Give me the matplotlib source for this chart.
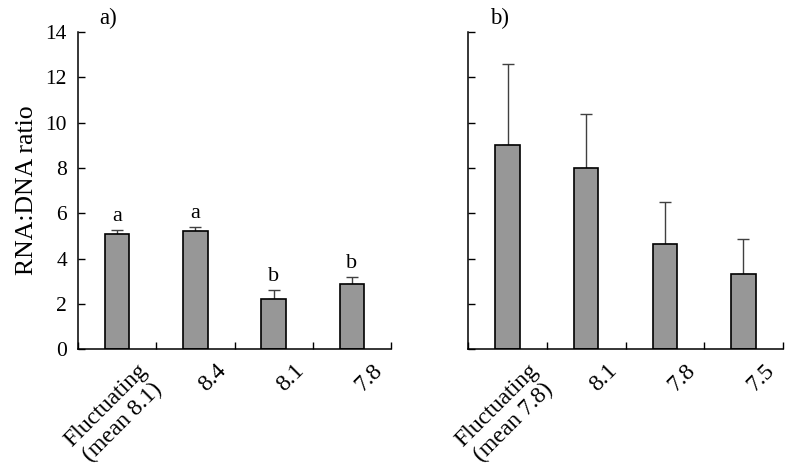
import matplotlib
matplotlib.use("Agg")
import matplotlib.pyplot as plt
from matplotlib.transforms import ScaledTranslation
import numpy as np

plt.rcParams['font.family'] = ['Liberation Serif', 'DejaVu Serif']
plt.rcParams['font.size'] = 15.5

# Panel a
cats_a = ["Fluctuating\n(mean 8.1)", "8.4", "8.1", "7.8"]
vals_a = [5.08, 5.21, 2.24, 2.86]
errs_a = [0.17, 0.18, 0.38, 0.33]
letters_a = ["a", "a", "b", "b"]

# Panel b
cats_b = ["Fluctuating\n(mean 7.8)", "8.1", "7.8", "7.5"]
vals_b = [9.0, 8.02, 4.65, 3.33]
errs_b = [3.6, 2.36, 1.87, 1.53]

yticks = [0, 2, 4, 6, 8, 10, 12, 14]

fig = plt.figure(figsize=(7.87, 4.69), dpi=100)
W, H = 787, 469
ax1 = fig.add_axes([78 / W, (H - 349.3) / H, 313 / W, 317.3 / H])
ax2 = fig.add_axes([468.3 / W, (H - 349.3) / H, 314.4 / W, 317.3 / H])

bar_color = "#979797"
err_color = "#404040"
FS = 15.5
FSX = 17


def draw(ax, cats, vals, errs, letters, label, show_ylabels):
    n = len(cats)
    x = np.arange(n) + 0.5
    ax.bar(x, vals, width=0.31, color=bar_color, edgecolor="black",
           linewidth=1.2, zorder=2)
    ax.errorbar(x, vals, yerr=[np.zeros(n), errs], fmt="none",
                ecolor=err_color, elinewidth=1.0, capsize=4, capthick=1.0,
                zorder=1)
    if letters is not None:
        for xi, v, e, t in zip(x, vals, errs, letters):
            ax.annotate(t, (xi, v + e), xytext=(0, 3),
                        textcoords="offset points", ha="center",
                        va="bottom", fontsize=FS + 0.5)
    ax.set_xlim(0, n)
    ax.set_ylim(0, 14)
    ax.set_yticks(yticks)
    if show_ylabels:
        ax.set_yticklabels([str(t) for t in yticks])
    else:
        ax.set_yticklabels([])
    ax.tick_params(axis="y", direction="in", length=5, width=1.0,
                   labelsize=FS, pad=8)
    ax.set_xticks(x)
    ax.set_xticklabels(cats, rotation=45, ha="right", va="top",
                       rotation_mode="anchor", multialignment="center",
                       fontsize=FSX, linespacing=1.15)
    ax.tick_params(axis="x", which="major", length=0, pad=8)
    ax.set_xticks(np.arange(n + 1), minor=True)
    ax.tick_params(axis="x", which="minor", direction="in", length=5,
                   width=1.0)
    for lab in ax.get_xticklabels():
        lab.set_transform(lab.get_transform() +
                          ScaledTranslation(0.20, 0, fig.dpi_scale_trans))
    for s in ["top", "right"]:
        ax.spines[s].set_visible(False)
    for s in ["left", "bottom"]:
        ax.spines[s].set_linewidth(1.1)
    ax.text(0.068, 1.025, label, transform=ax.transAxes, ha="left",
            va="baseline", fontsize=FS + 1)


draw(ax1, cats_a, vals_a, errs_a, letters_a, "a)", True)
draw(ax2, cats_b, vals_b, errs_b, None, "b)", False)
ax1.set_ylabel("RNA:DNA ratio", fontsize=18.5, labelpad=5)

fig.savefig("out.png", dpi=100)
